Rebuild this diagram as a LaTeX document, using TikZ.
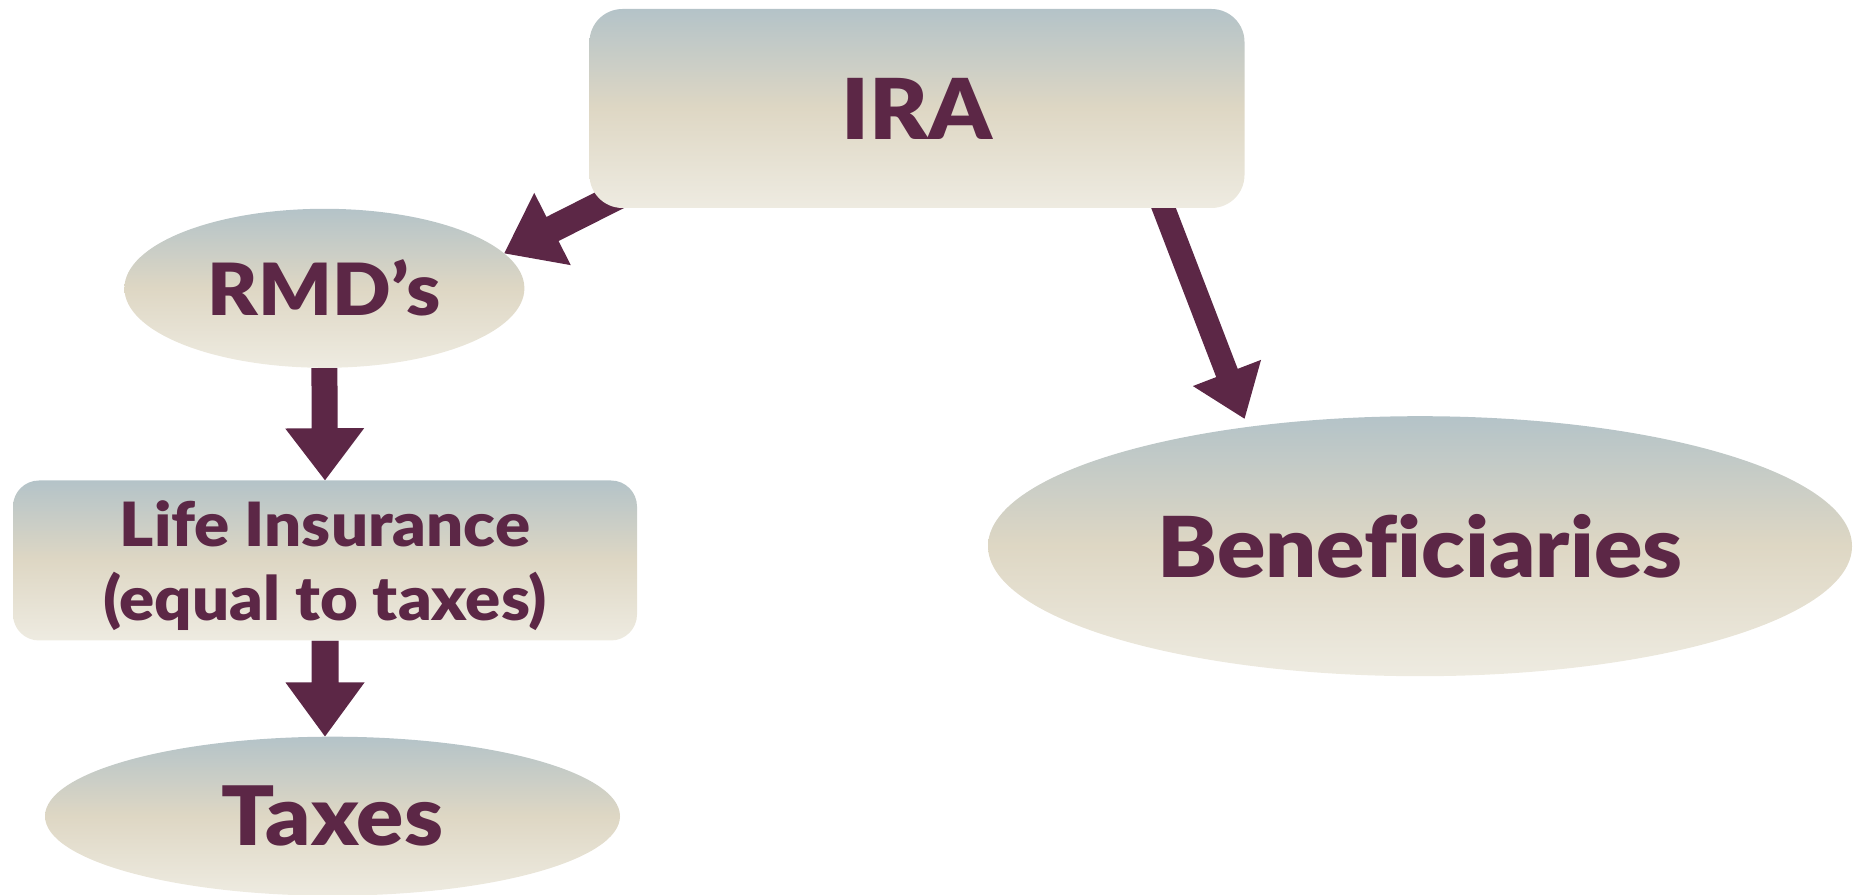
\documentclass[tikz,border=0pt]{standalone}
\usepackage{fontspec}
\setmainfont{Lato}[BoldFont={Lato Black}, BoldFeatures={FakeStretch=1.07}, Ligatures=NoCommon]
\usetikzlibrary{calc,shapes.geometric}
\definecolor{plum}{HTML}{5C2746}
\definecolor{shtop}{HTML}{B4C3C8}
\definecolor{shmid}{HTML}{DED7C4}
\definecolor{shbot}{HTML}{EEEBE1}
\pgfdeclarelayer{bg}
\pgfsetlayers{bg,main}
\tikzset{
  shadebox/.style={top color=shtop, bottom color=shbot, middle color=shmid, draw=none, inner sep=0pt, text=plum},
  roundbox/.style={shadebox, rectangle, rounded corners=#1},
  oval/.style={shadebox, ellipse},
  fatarrow/.style={fill=plum, draw=none}
}
% #1 start, #2 tip, #3 shaft half width, #4 head half width, #5 head length
\newcommand\fatarrow[5]{%
  \path (#2) coordinate (fa-t) ($(#2)!#5!(#1)$) coordinate (fa-b) (#1) coordinate (fa-s);
  \fill[fatarrow] ($(fa-s)!#3!90:(fa-b)$) -- ($(fa-b)!#3!-90:(fa-s)$) -- ($(fa-b)!#4!-90:(fa-s)$) -- (fa-t) -- ($(fa-b)!#4!90:(fa-s)$) -- ($(fa-b)!#3!90:(fa-s)$) -- ($(fa-s)!#3!-90:(fa-b)$) -- cycle;}
\begin{document}
\begin{tikzpicture}[x=1pt,y=1pt]
\useasboundingbox (0,0) rectangle (1860,894);
\node[roundbox=33pt, minimum width=655pt, minimum height=199pt, font=\bfseries\fontsize{84}{90}\selectfont] (IRA) at (917,785.5) {IRA};
\node[oval, minimum width=400pt, minimum height=159pt, font=\bfseries\fontsize{72}{80}\selectfont] (RMD) at (324.4,605.7) {RMD’s};
\node[roundbox=26pt, minimum width=624pt, minimum height=160pt, align=center, text depth=0pt, font=\bfseries\fontsize{61}{73.5}\selectfont] (Life) at (325,333.5) {Life Insurance\\(equal to taxes)};
\node[oval, minimum width=575pt, minimum height=159pt, font=\bfseries\fontsize{82}{90}\selectfont] (Taxes) at (332.5,77.8) {Taxes};
\node[oval, minimum width=864pt, minimum height=260pt, font=\bfseries\fontsize{84}{90}\selectfont] (Ben) at (1420,347.8) {Beneficiaries};
\coordinate (iraL) at ($(IRA.south west)+(42,19)$);
\coordinate (iraR) at ($(IRA.south east)+(-88,18)$);
\coordinate (benT) at ($(Ben.center)!1.06!(Ben.144)$);
\coordinate (taxT) at (Life.south |- Taxes.north);
\begin{pgfonlayer}{bg}
\fatarrow{iraL}{RMD.11}{13.5pt}{40.5pt}{54pt}
\fatarrow{iraR}{benT}{11.5pt}{36.5pt}{49pt}
\fatarrow{RMD.south}{Life.north}{13pt}{39.5pt}{52pt}
\fatarrow{Life.south}{taxT}{13.5pt}{39.5pt}{54pt}
\end{pgfonlayer}
\end{tikzpicture}
\end{document}
